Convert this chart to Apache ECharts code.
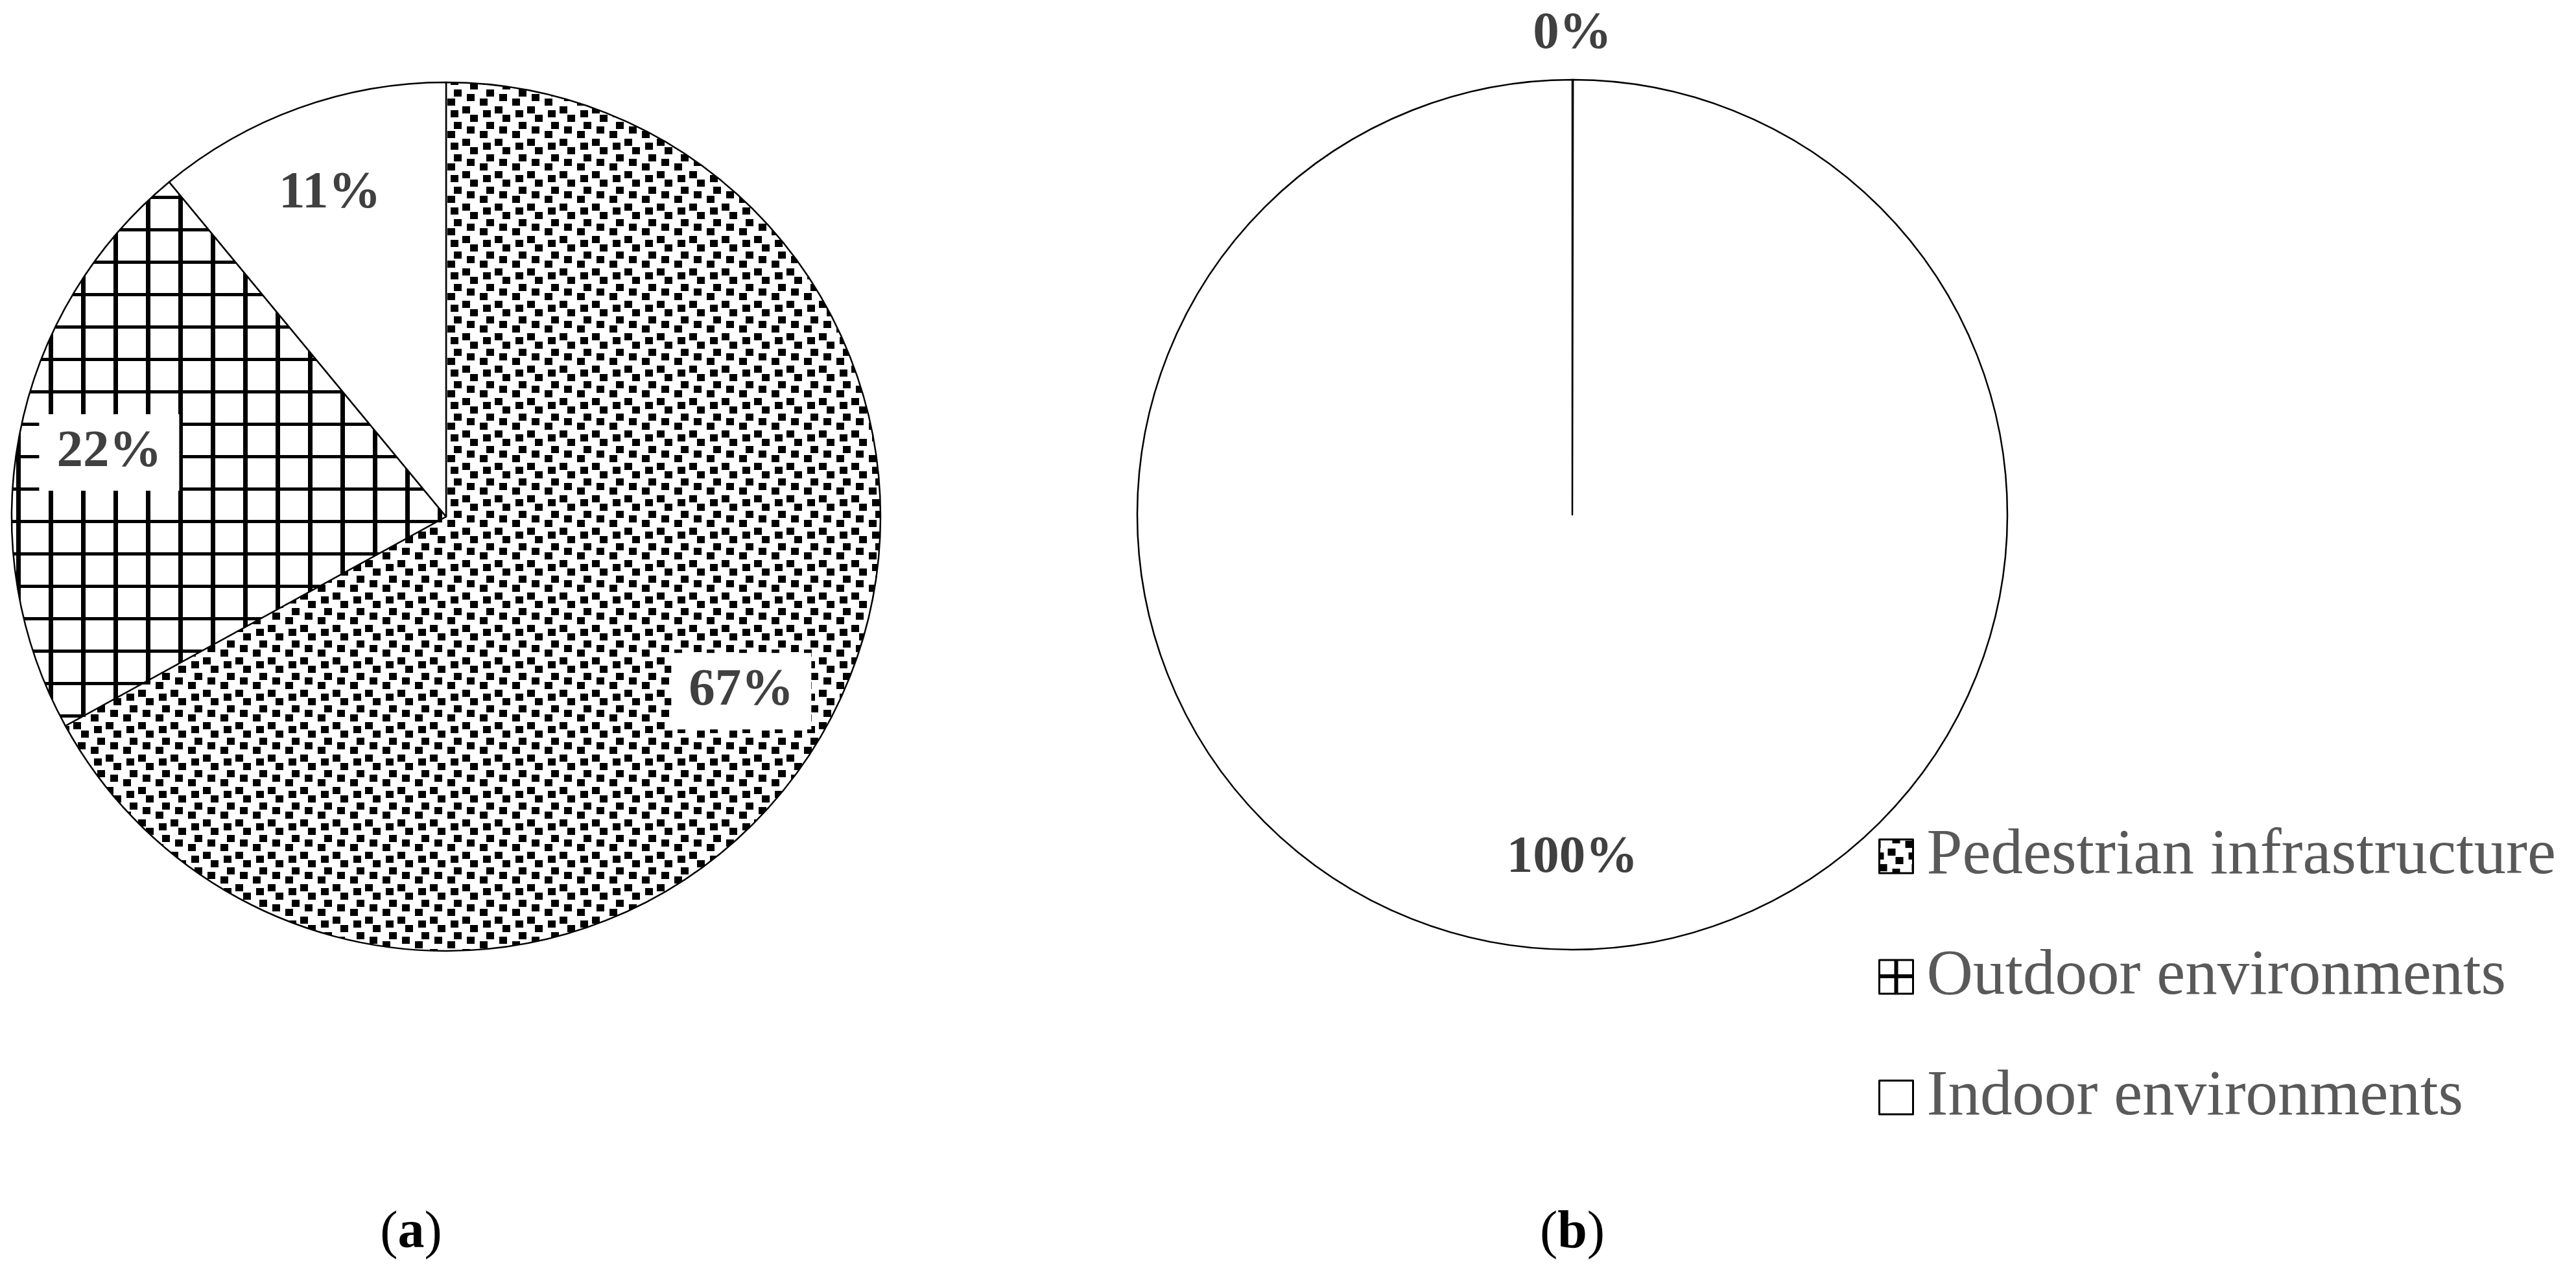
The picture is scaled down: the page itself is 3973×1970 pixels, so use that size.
<!DOCTYPE html>
<html><head><meta charset="utf-8">
<script src="https://cdn.jsdelivr.net/npm/echarts@6/dist/echarts.min.js"></script>
<style>html,body{margin:0;padding:0;background:#fff}#c{width:3973px;height:1970px}</style>
</head><body><div id="c"></div>
<script>
const categories = ['Pedestrian infrastructure', 'Outdoor environments', 'Indoor environments'];
const valuesA = [67, 22, 11];
const valuesB = [0, 0, 100];
const panelLabels = ['a', 'b'];

function makeChecker() {
  const c = document.createElement('canvas'); c.width = 50; c.height = 50;
  const g = c.getContext('2d');
  g.fillStyle = '#fff'; g.fillRect(0, 0, 50, 50);
  g.fillStyle = '#000';
  const sq = [[40, 2], [13, 14], [45, 20], [25, 27], [0, 38], [20, 45]];
  sq.forEach(function (p) {
    [0, -50].forEach(function (dx) { [0, -50].forEach(function (dy) { g.fillRect(p[0] + dx, p[1] + dy, 12, 11); }); });
  });
  return c;
}
function makeGrid() {
  const c = document.createElement('canvas'); c.width = 50; c.height = 50;
  const g = c.getContext('2d');
  g.fillStyle = '#fff'; g.fillRect(0, 0, 50, 50);
  g.fillStyle = '#000';
  g.fillRect(0, 2, 50, 5);
  g.fillRect(25, 0, 7, 50);
  return c;
}
function makeCrossIcon() {
  const c = document.createElement('canvas'); c.width = 52; c.height = 52;
  const g = c.getContext('2d');
  g.fillStyle = '#fff'; g.fillRect(0, 0, 52, 52);
  g.fillStyle = '#000';
  g.fillRect(0, 22, 52, 6);
  g.fillRect(23, 0, 6, 52);
  return c;
}
const fills = [
  { image: makeChecker(), repeat: 'repeat' },
  { image: makeGrid(), repeat: 'repeat' },
  '#ffffff'
];
const legendFills = [
  { image: makeChecker(), repeat: 'repeat' },
  { image: makeCrossIcon(), repeat: 'repeat' },
  '#ffffff'
];

const labelStyle = {
  fontFamily: 'Liberation Serif', fontWeight: 'bold', fontSize: 81, lineHeight: 82,
  color: '#404040', backgroundColor: '#ffffff', padding: [18, 27]
};

function mainPie(values, center, r) {
  return {
    type: 'pie', center: center, radius: r, startAngle: 90, clockwise: true,
    minAngle: 0.05,
    silent: true, animation: false, percentPrecision: 0,
    label: { show: false }, labelLine: { show: false },
    emphasis: { disabled: true },
    itemStyle: { borderColor: '#000', borderWidth: 2.5 },
    data: categories.map(function (n, i) { return { name: n, value: values[i], itemStyle: { color: fills[i] } }; })
  };
}
function labelPie(values, center, r, r0f, r1f, zeroOnly) {
  return {
    type: 'pie', center: center, radius: [r * r0f, r * r1f], startAngle: 90, clockwise: true,
    silent: true, animation: false, percentPrecision: 0, avoidLabelOverlap: false,
    itemStyle: { color: 'rgba(0,0,0,0)', borderWidth: 0 },
    emphasis: { disabled: true },
    labelLine: { show: false },
    label: Object.assign({ show: true, position: 'inside', formatter: '{d}%' }, labelStyle),
    data: categories.map(function (n, i) {
      return { name: n, value: values[i], label: { show: zeroOnly ? values[i] === 0 : values[i] !== 0 } };
    })
  };
}

const cA = [688, 797], rA = 670;
const cB = [2425, 794], rB = 671;

const capRich = {
  p: { fontFamily: 'Liberation Serif', fontSize: 82, lineHeight: 90, fontWeight: 'normal', color: '#000' },
  b: { fontFamily: 'Liberation Serif', fontSize: 82, lineHeight: 90, fontWeight: 'bold', color: '#000' }
};

const chart = echarts.init(document.getElementById('c'), null, { renderer: 'canvas' });
chart.setOption({
  backgroundColor: '#ffffff',
  animation: false,
  title: [
    { text: '{p|(}{b|' + panelLabels[0] + '}{p|)}', left: 634, top: 1858, textAlign: 'center', padding: 0, textStyle: { fontWeight: 'normal', rich: capRich } },
    { text: '{p|(}{b|' + panelLabels[1] + '}{p|)}', left: 2425, top: 1858, textAlign: 'center', padding: 0, textStyle: { fontWeight: 'normal', rich: capRich } }
  ],
  legend: {
    orient: 'vertical', left: 2897, top: 1271, padding: 0,
    itemWidth: 52, itemHeight: 52, itemGap: 86, icon: 'rect',
    selectedMode: false,
    data: categories.map(function (n, i) { return { name: n, itemStyle: { color: legendFills[i] } }; }),
    itemStyle: { borderColor: '#000', borderWidth: 3 },
    textStyle: { fontFamily: 'Liberation Serif', fontSize: 99, lineHeight: 100, color: '#595959', padding: [0, 0, 0, 16] }
  },
  series: [
    mainPie(valuesA, cA, rA),
    labelPie(valuesA, cA, rA, 0.57, 1.0, false),
    labelPie(valuesA, cA, rA, 1.0, 1.2, true),
    mainPie(valuesB, cB, rB),
    labelPie(valuesB, cB, rB, 0.57, 1.0, false),
    labelPie(valuesB, cB, rB, 1.0, 1.2, true)
  ]
});
</script>
</body></html>
